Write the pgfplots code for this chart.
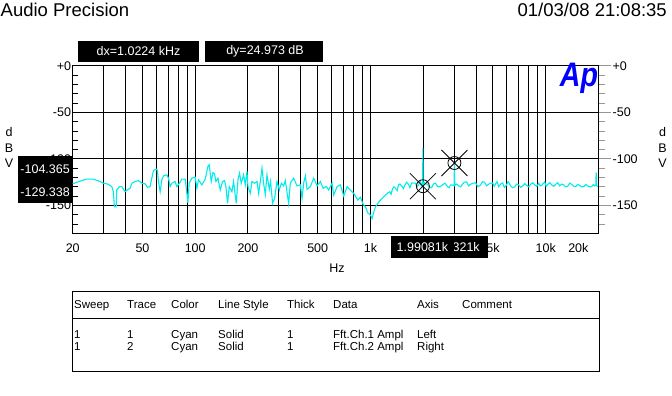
\documentclass[border=0pt]{standalone}
\usepackage{pgfplots}
\pgfplotsset{compat=1.18}
\usepackage{fontspec}
\setmainfont{Liberation Sans}
\definecolor{trace}{RGB}{0,235,235}
\definecolor{tickgray}{RGB}{150,150,150}
\definecolor{apblue}{RGB}{0,0,255}
\pgfdeclareplotmark{cursor}{%
  \pgfpathcircle{\pgfpoint{0pt}{0pt}}{6.5pt}%
  \pgfpathmoveto{\pgfpoint{-13pt}{-13pt}}\pgfpathlineto{\pgfpoint{13pt}{13pt}}%
  \pgfpathmoveto{\pgfpoint{-13pt}{13pt}}\pgfpathlineto{\pgfpoint{13pt}{-13pt}}%
  \pgfusepathqstroke}
\newcommand{\tfont}{\fontsize{12.5}{14}\selectfont}
\newcommand{\sfontt}{\fontsize{11.5}{13}\selectfont}
\begin{document}
\begin{tikzpicture}[x=1pt,y=1pt]
\path[use as bounding box] (0,0) rectangle (672,396);
\node[anchor=base west, font=\fontsize{18.5}{20}\selectfont, inner sep=0] at (0.5,379) {Audio Precision};
\node[anchor=base east, font=\fontsize{18.5}{20}\selectfont, inner sep=0] at (667,379) {01/03/08 21:08:35};

\begin{axis}[
  at={(72.7pt,162.7pt)}, anchor=south west,
  scale only axis, width=525.8pt, height=167.3pt,
  xmode=log, xmin=20, xmax=20000, ymin=-180, ymax=0,
  axis line style={black, line width=1pt},
  xtick={30,40,50,60,70,80,90,100,200,300,400,500,600,700,800,900,1000,2000,3000,4000,5000,6000,7000,8000,9000,10000},
  xticklabels={},
  xmajorgrids, ymajorgrids,
  major grid style={black, line width=1pt},
  extra x ticks={20,50,100,200,500,1000,2000,5000,10000,20000},
  extra x tick labels={20,50,100,200,500,1k,2k,5k,10k,\llap{20k}\hphantom{20k}},
  extra x tick style={grid=none, major tick length=0pt},
  ytick={0,-50,-100,-150}, yticklabels={+0,-50,-100,-150},
  minor ytick={-10,-20,-30,-40,-60,-70,-80,-90,-110,-120,-130,-140,-160,-170},
  ytick pos=left, xtick pos=bottom, tick align=inside,
  major tick length=0pt, minor tick length=5pt,
  tick style={black, line width=1pt},
  tick label style={font=\tfont},
  yticklabel style={inner sep=1.5pt},
  xticklabel style={yshift=-7pt},
  clip=true,
]
\addplot[trace, line width=1.1pt] coordinates {
(20,-126.8)(22.5,-123.3)(24.0,-121.7)(26.2,-121.7)(28.6,-124.3)(29.9,-126.1)(31.9,-127.2)(33.4,-129.8)
(34.1,-135.2)(34.6,-151.5)(35.4,-151.5)(35.7,-133.4)(36.9,-129.8)(38.1,-129.8)(39.8,-135.2)(41.0,-133.4)
(42.5,-131.5)(43.5,-126.1)(45.4,-124.3)(47.4,-123.3)(49.6,-126.1)(51.8,-126.8)(53.4,-130.4)(55.3,-129.8)
(56.0,-124.3)(57.8,-112.4)(59.8,-110.9)(60.9,-112.4)(61.7,-124.3)(63.1,-135.2)(64.5,-122.5)(65.9,-118.2)
(68.9,-117.1)(70.4,-120.7)(71.9,-129.8)(73.6,-126.1)(76.8,-124.3)(78.6,-129.8)(81.3,-126.1)(83.9,-121.7)
(87.7,-121.7)(89.6,-137.0)(90.8,-147.2)(92.4,-126.1)(95.7,-120.7)(100,-119.6)(102.2,-131.5)(104.4,-122.5)
(109.2,-127.9)(114.0,-121.7)(118.2,-108.0)(120.2,-106.2)(123.4,-124.3)(126.2,-114.6)(128.9,-116.0)(131.3,-124.3)
(134.8,-120.7)(138.9,-133.4)(143.2,-124.3)(147.0,-123.3)(149.7,-129.8)(152.9,-147.8)(156.4,-129.8)(162.0,-135.2)
(165.5,-124.3)(171.4,-147.8)(175.4,-122.5)(179.1,-115.2)(183.1,-126.1)(188.8,-117.1)(193.0,-127.9)(197.4,-113.5)
(200,-129.8)(206.2,-137.0)(210.8,-124.3)(218.2,-126.1)(225.2,-124.3)(230.0,-137.0)(235.2,-124.3)(240.4,-109.8)
(245.5,-126.1)(251.1,-138.2)(256.8,-117.1)(264.6,-132.6)(269.1,-124.3)(276.4,-147.8)(283.8,-142.4)(292.9,-124.3)
(302.0,-133.4)(310.0,-126.1)(319.4,-129.0)(326.6,-123.3)(341.2,-147.8)(348.9,-126.1)(364.4,-120.7)(381.1,-129.0)
(398.0,-127.9)(407.0,-142.4)(415.6,-126.1)(425.0,-118.2)(434.7,-132.6)(454.0,-129.8)(474.2,-120.7)(495.8,-129.0)
(517.8,-124.3)(536.6,-131.5)(560.4,-129.8)(577.6,-133.4)(604.0,-126.1)(616.8,-138.8)(645.2,-129.8)(673.8,-127.9)
(703.6,-139.9)(735.8,-129.8)(768.4,-133.4)(802.4,-137.0)(845.8,-144.2)(876.4,-141.3)(908.0,-148.9)(936.0,-151.5)
(964.8,-158.0)(999.8,-160.5)(1022.4,-164.1)(1044.2,-157.0)(1067.8,-151.5)(1100.6,-147.8)(1140.4,-144.2)(1191.2,-140.7)
(1245.8,-137.0)(1289.0,-135.2)(1310,-138.0)(1335.8,-132.3)(1360,-130.0)(1389.4,-131.5)(1420,-134.0)(1445.4,-127.9)
(1470,-127.0)(1517.2,-129.8)(1540,-132.0)(1584.8,-126.8)(1610,-125.0)(1655.0,-127.9)(1680,-131.0)(1714.8,-125.8)
(1750,-126.0)(1807.2,-126.1)(1840,-130.0)(1880,-127.9)(1920,-124.0)(1950,-129.0)(1973.8,-126.1)(1985,-129.3)
(1990.81,-88.0)(1996,-129.3)(2030,-125.5)(2062,-126.8)(2110,-127.0)(2170,-130.1)(2230,-131.0)(2290,-126.8)
(2350,-126.0)(2414,-129.8)(2490,-130.0)(2578,-127.9)(2660,-126.0)(2754,-129.8)(2810,-131.0)(2864,-127.9)
(3000,-128.5)(3013.21,-104.4)(3026,-128.5)(3100,-127.0)(3182,-129.0)(3270,-130.0)(3354,-126.8)(3440,-125.0)
(3536,-124.7)(3630,-129.0)(3728,-127.2)(3850,-126.0)(3980,-125.8)(4110,-130.0)(4250,-127.9)(4360,-124.5)
(4480,-125.2)(4600,-129.0)(4722,-127.2)(4850,-126.0)(4978,-125.8)(5080,-129.5)(5178,-126.8)(5280,-124.5)
(5388,-129.8)(5530,-127.0)(5678,-125.8)(5800,-130.5)(5946,-128.5)(6100,-124.3)(6310,-129.0)(6470,-131.0)
(6650,-130.1)(6820,-127.0)(7010,-127.9)(7200,-130.5)(7388,-129.0)(7580,-126.5)(7788,-128.5)(8000,-130.0)
(8208,-127.2)(8420,-125.5)(8650,-127.9)(8880,-129.5)(9120,-126.3)(9300,-129.0)(9484,-128.5)(9700,-126.0)
(9866,-124.7)(10050,-129.5)(10264,-127.4)(10540,-125.5)(10818,-127.9)(11100,-129.5)(11404,-127.2)(11700,-125.5)
(12020,-129.0)(12340,-127.0)(12668,-127.9)(13000,-130.0)(13352,-129.3)(13700,-126.0)(14074,-127.4)(14450,-129.5)
(14836,-129.6)(15230,-127.5)(15636,-128.5)(16050,-130.0)(16482,-129.6)(16920,-127.5)(17374,-129.0)(17840,-130.0)
(18310,-129.6)(18700,-127.5)(19050,-129.0)(19300,-128.0)(19400,-114.6)(19500,-129.0)(19800,-129.5)(20000,-130.1)
};
\addplot[only marks, mark=cursor, mark options={black, line width=0.8pt}] coordinates {
(1990.81,-129.338)(3013.21,-104.365)
};
\end{axis}

\begin{axis}[
  at={(72.7pt,162.7pt)}, anchor=south west,
  scale only axis, width=525.8pt, height=167.3pt,
  xmode=log, xmin=20, xmax=20000, ymin=-180, ymax=0,
  axis x line=none, axis y line*=right,
  axis line style={black, line width=1pt},
  ytick={0,-50,-100,-150}, yticklabels={+0,-50,-100,-150},
  minor ytick={-10,-20,-30,-40,-60,-70,-80,-90,-110,-120,-130,-140,-160,-170},
  tick align=outside, major tick length=13pt, minor tick length=7pt,
  tick style={tickgray, line width=1pt},
  tick label style={font=\tfont},
  yticklabel style={inner sep=1pt},
]
\end{axis}

% y unit labels
\foreach \yy/\tt in {263.7/d,247.7/B,232.7/V} {
  \node[font=\tfont, inner sep=0] at (9,\yy) {\tt};
  \node[font=\tfont, inner sep=0] at (662.5,\yy) {\tt};
}
\node[font=\tfont, inner sep=0] at (337,128) {Hz};

% Ap logo
\node[font=\fontsize{34}{34}\selectfont\bfseries\itshape, text=apblue, inner sep=0] at (579,317.5) {\scalebox{0.84}[1]{Ap}};

% cursor readouts
\fill[black] (78,334) rectangle (199,355);
\node[font=\tfont, text=white, inner sep=0] at (138.5,345) {dx=1.0224 kHz};
\fill[black] (205,334) rectangle (323,355);
\node[font=\tfont, text=white, inner sep=0] at (265,345) {dy=24.973 dB};

\fill[black] (18,192.7) rectangle (72,240.3);
\node[font=\tfont, text=white, inner sep=0, anchor=east] at (70,226.7) {-104.365};
\node[font=\tfont, text=white, inner sep=0, anchor=east] at (70,204.3) {-129.338};

\fill[black] (420,138) rectangle (488,160);
\node[font=\tfont, text=white, inner sep=0] at (454,149) {3.01321k};
\fill[black] (391,138) rectangle (453.8,160);
\node[font=\tfont, text=white, inner sep=0] at (422.4,149) {1.99081k};

% legend table
\draw[black, line width=0.8pt] (72,105) rectangle (599,25);
\draw[black, line width=0.8pt] (72,77.5) -- (599,77.5);
\foreach \xx/\txt in {74/Sweep,127/Trace,171/Color,218/Line Style,287/Thick,333/Data,417/Axis,462/Comment}
  \node[font=\sfontt, anchor=base west, inner sep=0] at (\xx,87.7) {\txt};
\foreach \xx/\txt in {74/1,127/1,171/Cyan,218/Solid,287/1,333/Fft.Ch.1 Ampl,417/Left}
  \node[font=\sfontt, anchor=base west, inner sep=0] at (\xx,57) {\txt};
\foreach \xx/\txt in {74/1,127/2,171/Cyan,218/Solid,287/1,333/Fft.Ch.2 Ampl,417/Right}
  \node[font=\sfontt, anchor=base west, inner sep=0] at (\xx,45) {\txt};
\end{tikzpicture}
\end{document}
